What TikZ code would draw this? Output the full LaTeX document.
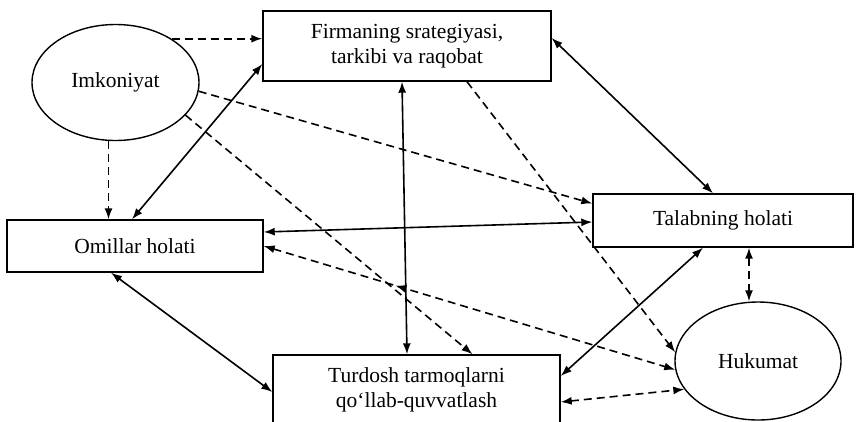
\documentclass[tikz,border=0pt]{standalone}
\usepackage{fontspec}
\setmainfont{Liberation Serif}
\usetikzlibrary{shapes.geometric,arrows.meta,decorations.markings}
\begin{document}
\begin{tikzpicture}[x=1pt,y=-1pt,
  box/.style={draw,line width=1.4pt,rectangle,inner sep=0pt,align=center,font=\fontsize{21.5}{25}\selectfont},
  oval/.style={draw,line width=1.4pt,ellipse,inner sep=0pt,font=\fontsize{21.5}{25}\selectfont},
  solidlink/.style={line width=1.6pt,{Latex[length=11pt,width=8pt]}-{Latex[length=11pt,width=8pt]}},
  dashlink/.style={line width=1.6pt,dash pattern=on 8pt off 5pt,-{Latex[length=11pt,width=8pt]}},
  dashboth/.style={line width=1.6pt,dash pattern=on 8pt off 5pt,{Latex[length=11pt,width=8pt]}-{Latex[length=11pt,width=8pt]}},
]
\useasboundingbox (0,0) rectangle (856,421);
\fill[white] (0,0) rectangle (856,421);

\node[oval,minimum width=167pt,minimum height=116pt] (imk) at (115.5,82.5) {Imkoniyat};
\node[box,minimum width=288pt,minimum height=70pt] (fi) at (407,46) {Firmaning srategiyasi,\\tarkibi va raqobat};
\node[box,minimum width=256pt,minimum height=52pt] (om) at (135,246) {Omillar holati};
\node[box,minimum width=260pt,minimum height=53pt] (ta) at (723,220.5) {Talabning holati};
\node[box,minimum width=287pt,minimum height=70pt] (tu) at (416.5,390) {Turdosh tarmoqlarni\\qo‘llab-quvvatlash};
\node[oval,minimum width=166pt,minimum height=118pt] (hu) at (758,361) {Hukumat};

% dashed from Imkoniyat
\draw[dashlink] (imk.38) -- (imk.38 -| fi.west);
\draw[dashlink] ([xshift=-7pt]imk.south) -- ([xshift=-7pt]imk.south |- om.north);
\draw[dashlink] (imk.-6) -- ([yshift=17pt]ta.west);
\draw[dashlink] (imk.-25) -- ([xshift=56pt]tu.north);

% solid links
\draw[solidlink] ([xshift=-3pt]om.north) -- ([yshift=-18pt]fi.west);
\draw[solidlink] ([xshift=-5pt]fi.south) -- ([xshift=-9.5pt]tu.north);
\draw[solidlink] ([yshift=8pt]fi.east) -- ([xshift=-10pt]ta.north);
\draw[solidlink] ([yshift=14pt]om.east) -- ([yshift=-1.5pt]ta.west);
\draw[solidlink] ([xshift=-20pt]ta.south) -- ([yshift=14pt]tu.east);
\draw[solidlink] ([xshift=-24pt]om.south) -- ([yshift=-2pt]tu.west);

% dashed links
\draw[dashlink] ([xshift=60pt]fi.south) -- (hu.174);
\draw[dashboth] ([xshift=26pt]ta.south) -- ([xshift=26pt]ta.south |- hu.north);
\draw[dashboth] ([yshift=-12pt]tu.east) -- (hu.201);
\draw[dashboth,postaction={decorate,decoration={markings,mark=at position 0.32 with {\arrowreversed{Latex[length=11pt,width=8pt]}}}}] (om.east) -- (hu.186);
\end{tikzpicture}
\end{document}
